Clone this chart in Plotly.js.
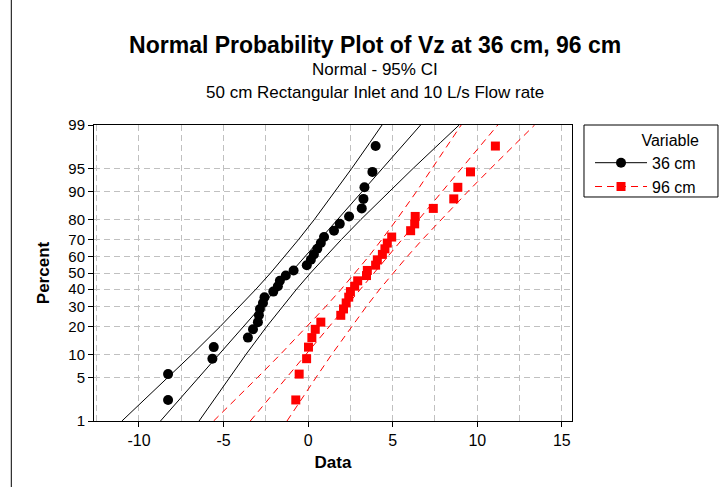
<!DOCTYPE html>
<html>
<head>
<meta charset="utf-8">
<script src="https://cdn.plot.ly/plotly-3.0.1.min.js"></script>
<style>
  html, body { margin: 0; padding: 0; background: #ffffff; }
  #chart { width: 727px; height: 487px; }
</style>
</head>
<body>
<div id="chart"></div>
<script>
// ---- Data ----
// plotting positions (percent) of the 30 ranked observations
const pct = [2.3, 5.6, 8.9, 12.2, 15.5, 18.8, 22.0, 25.3, 28.6, 31.9,
             35.2, 38.5, 41.8, 45.1, 48.4, 51.6, 54.9, 58.2, 61.5, 64.8,
             68.1, 71.4, 74.7, 78.0, 81.3, 84.5, 87.8, 91.1, 94.4, 97.7];

const vz36 = [-8.28, -8.28, -5.66, -5.58, -3.56, -3.26, -2.97, -2.91, -2.85, -2.67,
              -2.58, -2.06, -1.79, -1.67, -1.32, -0.86, -0.08, 0.16, 0.34, 0.54,
              0.75, 0.94, 1.53, 1.87, 2.42, 3.17, 3.27, 3.33, 3.80, 3.99];

const vz96 = [-0.73, -0.53, -0.09, 0.02, 0.22, 0.42, 0.75, 1.93, 2.09, 2.25,
              2.40, 2.50, 2.75, 2.93, 3.45, 3.50, 3.99, 4.09, 4.39, 4.54,
              4.68, 4.94, 6.06, 6.30, 6.33, 7.40, 8.61, 8.85, 9.60, 11.07];

// fitted lines (percent -> data)
const fitPct = [1, 99];
const fit36 = [-8.73, 6.65];
const fit96 = [-3.42, 11.21];

// 95% confidence bands, read at these percent levels
const ciPct = [1, 2, 5, 10, 20, 30, 40, 50, 60, 70, 80, 90, 95, 98, 99];
const ci36Lo = [-11.01, -9.92, -8.29, -6.87, -5.20, -4.04, -3.08, -2.22, -1.40, -0.57, 0.37, 1.60, 2.58, 3.66, 4.37];
const ci36Hi = [-6.45, -5.74, -4.66, -3.68, -2.45, -1.51, -0.68, 0.14, 1.00, 1.96, 3.12, 4.79, 6.21, 7.84, 8.93];
const ci96Lo = [-5.59, -4.54, -3.00, -1.65, -0.06, 1.05, 1.96, 2.77, 3.56, 4.35, 5.24, 6.41, 7.34, 8.38, 9.05];
const ci96Hi = [-1.25, -0.58, 0.46, 1.39, 2.56, 3.45, 4.24, 5.03, 5.84, 6.75, 7.86, 9.45, 10.80, 12.34, 13.39];

const yTickPct = [1, 5, 10, 20, 30, 40, 50, 60, 70, 80, 90, 95, 99];
const xTicks = [-10, -5, 0, 5, 10, 15];

// ---- normal probability scale (inverse normal CDF, Acklam) ----
function probit(p) {
  const a = [-3.969683028665376e+01, 2.209460984245205e+02, -2.759285104469687e+02,
             1.383577518672690e+02, -3.066479806614716e+01, 2.506628277459239e+00];
  const b = [-5.447609879822406e+01, 1.615858368580409e+02, -1.556989798598866e+02,
             6.680131188771972e+01, -1.328068155288572e+01];
  const c = [-7.784894002430293e-03, -3.223964580411365e-01, -2.400758277161838e+00,
             -2.549732539343734e+00, 4.374664141464968e+00, 2.938163982698783e+00];
  const d = [7.784695709041462e-03, 3.224671290700398e-01, 2.445134137142996e+00,
             3.754408661907416e+00];
  const pl = 0.02425, ph = 1 - pl;
  let q, r;
  if (p < pl) {
    q = Math.sqrt(-2 * Math.log(p));
    return (((((c[0]*q+c[1])*q+c[2])*q+c[3])*q+c[4])*q+c[5]) / ((((d[0]*q+d[1])*q+d[2])*q+d[3])*q+1);
  } else if (p <= ph) {
    q = p - 0.5; r = q*q;
    return (((((a[0]*r+a[1])*r+a[2])*r+a[3])*r+a[4])*r+a[5])*q / (((((b[0]*r+b[1])*r+b[2])*r+b[3])*r+b[4])*r+1);
  } else {
    q = Math.sqrt(-2 * Math.log(1 - p));
    return -(((((c[0]*q+c[1])*q+c[2])*q+c[3])*q+c[4])*q+c[5]) / ((((d[0]*q+d[1])*q+d[2])*q+d[3])*q+1);
  }
}
const toZ = arr => arr.map(v => probit(v / 100));

const BLACK = '#000000', RED = '#ff0000';
const redDash = '7px,5px';

const traces = [
  // 36 cm lines
  {x: ci36Lo, y: toZ(ciPct), mode: 'lines', line: {color: BLACK, width: 1}, showlegend: false, hoverinfo: 'skip'},
  {x: ci36Hi, y: toZ(ciPct), mode: 'lines', line: {color: BLACK, width: 1}, showlegend: false, hoverinfo: 'skip'},
  {x: fit36, y: toZ(fitPct), mode: 'lines', line: {color: BLACK, width: 1}, showlegend: false, hoverinfo: 'skip'},
  // 96 cm lines
  {x: ci96Lo, y: toZ(ciPct), mode: 'lines', line: {color: RED, width: 1, dash: redDash}, showlegend: false, hoverinfo: 'skip'},
  {x: ci96Hi, y: toZ(ciPct), mode: 'lines', line: {color: RED, width: 1, dash: redDash}, showlegend: false, hoverinfo: 'skip'},
  {x: fit96, y: toZ(fitPct), mode: 'lines', line: {color: RED, width: 1, dash: redDash}, showlegend: false, hoverinfo: 'skip'},
  // points
  {x: vz36, y: toZ(pct), mode: 'markers', marker: {symbol: 'circle', size: 10, color: BLACK}, showlegend: false},
  {x: vz96, y: toZ(pct), mode: 'markers', marker: {symbol: 'square', size: 9, color: RED}, showlegend: false},
  // legend entries
  {x: [null], y: [null], name: '36 cm', mode: 'lines+markers',
   line: {color: BLACK, width: 1}, marker: {symbol: 'circle', size: 10, color: BLACK}},
  {x: [null], y: [null], name: '96 cm', mode: 'lines+markers',
   line: {color: RED, width: 1, dash: redDash}, marker: {symbol: 'square', size: 9, color: RED}}
];

const FONT = 'Liberation Sans, Arial, sans-serif';

const layout = {
  width: 727, height: 487,
  margin: {l: 94, r: 155, t: 125, b: 66},
  paper_bgcolor: '#ffffff', plot_bgcolor: '#ffffff',
  font: {family: FONT, size: 16, color: '#000000'},
  title: {text: '<b>Normal Probability Plot of Vz at 36 cm, 96 cm</b>',
          font: {family: FONT, size: 23, color: '#000'},
          x: 0.516, xanchor: 'center', xref: 'container',
          y: 0.908, yanchor: 'middle', yref: 'container'},
  xaxis: {
    range: [-12.66, 15.6], tickvals: xTicks, ticktext: xTicks.map(String),
    ticks: 'outside', ticklen: 5, tickcolor: '#000', tickfont: {size: 16},
    showline: true, linecolor: '#000', linewidth: 1, mirror: true,
    showgrid: true, gridcolor: '#c0c0c0', griddash: '6px,4px',
    minor: {dtick: 2.5, tick0: 0, showgrid: true, gridcolor: '#c0c0c0', griddash: '6px,4px', ticks: ''},
    zeroline: false,
    title: {text: '<b>Data</b>', font: {size: 17}, standoff: 7}
  },
  yaxis: {
    range: [probit(0.01), probit(0.99)],
    tickvals: toZ(yTickPct), ticktext: yTickPct.map(String),
    ticks: 'outside', ticklen: 5, tickcolor: '#000', tickfont: {size: 15},
    showline: true, linecolor: '#000', linewidth: 1, mirror: true,
    showgrid: true, gridcolor: '#c0c0c0', griddash: '6px,4px',
    zeroline: false,
    title: {text: '<b>Percent</b>', font: {size: 17}, standoff: 14}
  },
  showlegend: true,
  legend: {
    x: 1.0377, xanchor: 'left', y: 1, yanchor: 'top',
    borderwidth: 0, bgcolor: 'rgba(0,0,0,0)',
    font: {size: 16},
    title: {text: 'Variable', side: 'top right', font: {size: 16}},
    itemwidth: 52, tracegroupgap: 0
  },
  annotations: [
    {text: 'Normal - 95% CI', xref: 'paper', yref: 'paper', x: 0.588, y: 1.189,
     xanchor: 'center', yanchor: 'middle', showarrow: false, font: {size: 17}},
    {text: '50 cm Rectangular Inlet and 10 L/s Flow rate', xref: 'paper', yref: 'paper', x: 0.588, y: 1.111,
     xanchor: 'center', yanchor: 'middle', showarrow: false, font: {size: 17}}
  ],
  shapes: [
    {type: 'line', xref: 'paper', yref: 'paper', x0: -0.173, x1: -0.173, y0: -0.23, y1: 1.5,
     line: {color: '#000', width: 1}},
    {type: 'rect', xref: 'paper', yref: 'paper', x0: 1.0251, x1: 1.3054, y0: 0.7568, y1: 1.0,
     line: {color: '#000', width: 1}, fillcolor: 'rgba(0,0,0,0)'}
  ]
};

Plotly.newPlot('chart', traces, layout, {displayModeBar: false, staticPlot: true});
</script>
</body>
</html>
